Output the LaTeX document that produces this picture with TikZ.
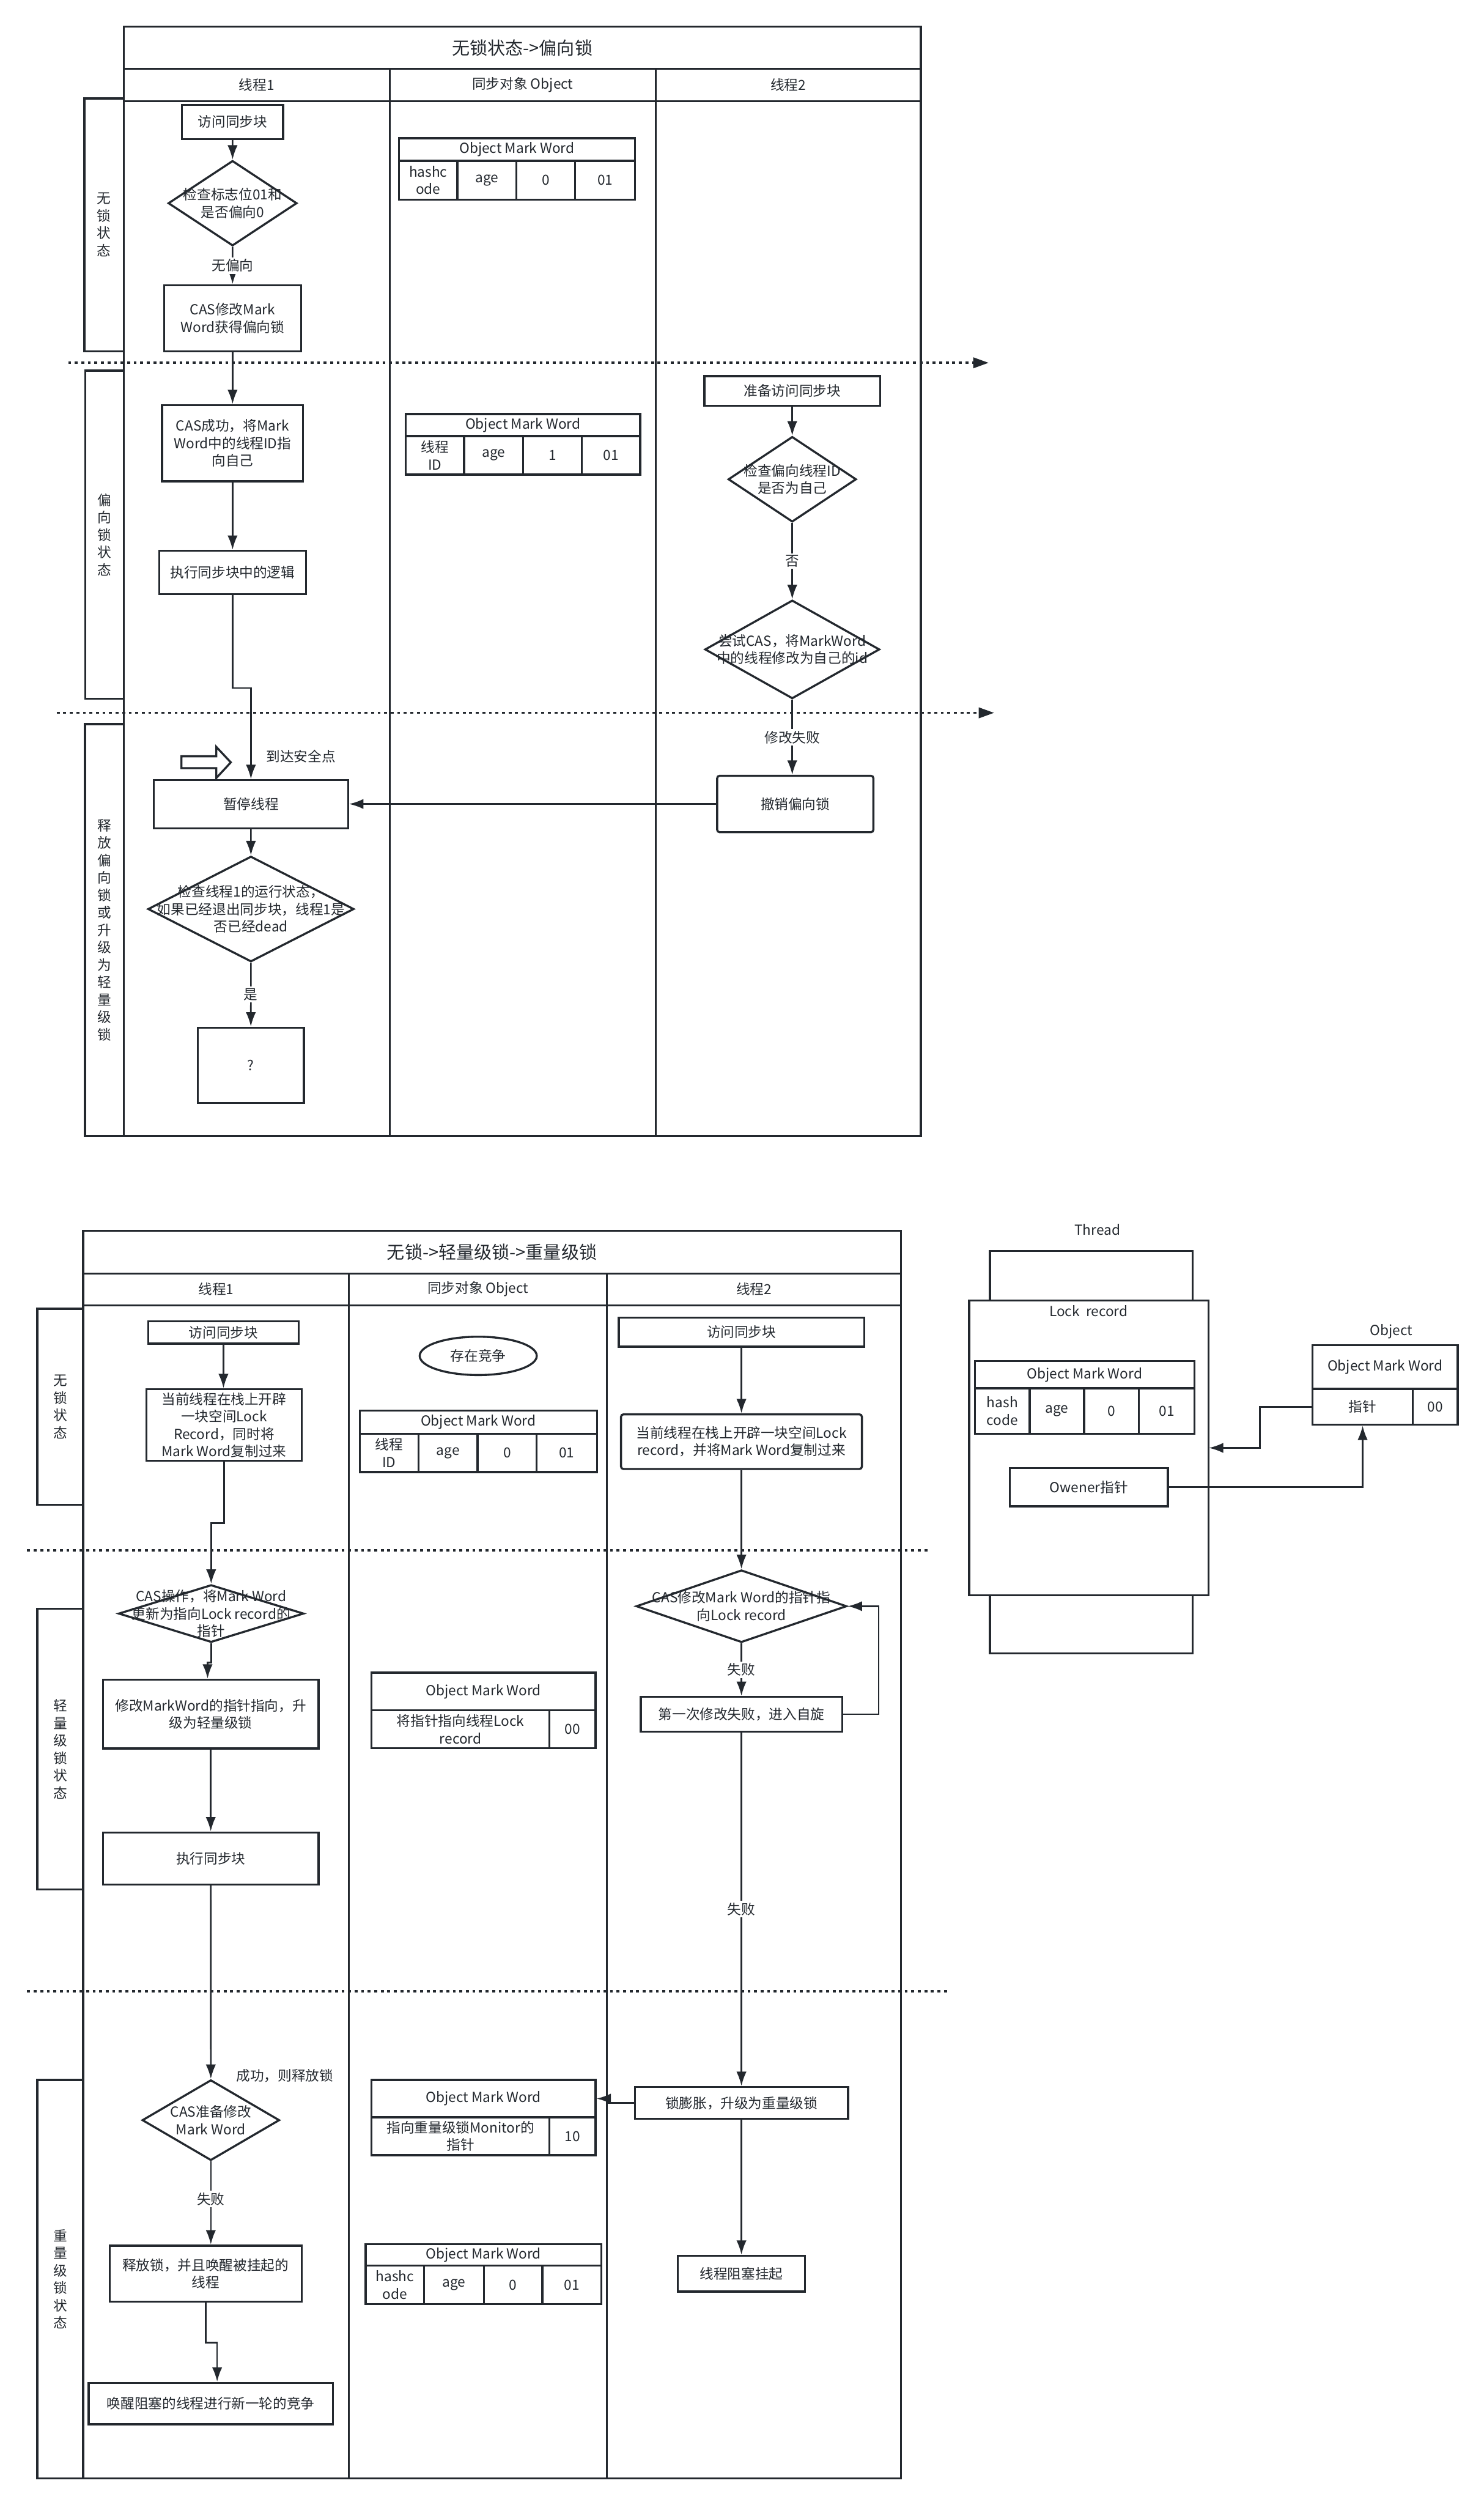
\documentclass[tikz,border=0pt]{standalone}
\usepackage{fontspec}
\setmainfont{Noto Sans CJK SC}
\usetikzlibrary{arrows.meta,shapes.geometric}
\definecolor{ink}{RGB}{35,40,46}
\newcommand\rbox[7][]{\node[box,#1,minimum width={(#5-#3)*0.3mm},minimum height={(#6-#4)*0.3mm}] (#2) at ({(#3+#5)/2},{(#4+#6)/2}) {#7};}
\newcommand\dnode[6]{\node[dia,minimum width={#4*0.3mm},minimum height={#5*0.3mm}] (#1) at (#2,#3) {};\node[txt] (#1t) at (#1.center) {#6};}
\begin{document}
\begin{tikzpicture}[x=0.3mm,y=-0.3mm,
 txt/.style={font=\fontsize{7.4}{9.3}\selectfont,text=ink,align=center},
 box/.style={txt,draw=ink,line width=1.1pt,fill=white,inner sep=0.5pt},
 rbx/.style={rounded corners=1.3pt},
 lane/.style={draw=ink,line width=1.1pt},
 dia/.style={diamond,draw=ink,line width=1.1pt,fill=white,inner sep=0pt},
 arr/.style={draw=ink,line width=0.85pt,-{Latex[length=2.7mm,width=1.9mm]}},
 lbl/.style={txt,fill=white,inner sep=1pt},
 sepl/.style={draw=ink,line width=1.2pt,dash pattern=on 0.55mm off 0.68mm},
 sepa/.style={sepl,-{Triangle[length=2.9mm,width=1.95mm]}},
 ttl/.style={font=\fontsize{9.5}{11.5}\selectfont,text=ink}]
\useasboundingbox (0,0) rectangle (929,1568);

% ================= TOP DIAGRAM =================
\draw[lane] (77.5,16.7) rectangle (576.5,711);
\draw[lane] (77.5,43) -- (576.5,43);
\draw[lane] (77.5,63.3) -- (576.5,63.3);
\draw[lane] (244,43) -- (244,711);
\draw[lane] (410.5,43) -- (410.5,711);
\node[ttl] (tt1) at (327,29.9) {无锁状态->偏向锁};
\node[txt] (th1) at (160.75,53.2) {线程1};
\node[txt] (th2) at (327.25,53.2) {同步对象 Object};
\node[txt] (th3) at (493.5,53.2) {线程2};
\rbox{lb1}{52.8}{61.6}{77.5}{219.8}{无\\锁\\状\\态}
\rbox{lb2}{53.3}{232}{77.5}{437.3}{偏\\向\\锁\\状\\态}
\rbox{lb3}{53.2}{453.3}{77.5}{711}{释\\放\\偏\\向\\锁\\或\\升\\级\\为\\轻\\量\\级\\锁}

\coordinate (s1a) at (42.7,227.1); \coordinate (s1b) at (619,227.1);
\coordinate (s2a) at (35.5,446.2); \coordinate (s2b) at (622.4,446.2);
\draw[sepa] (s1a) -- (s1b);
\draw[sepa] (s2a) -- (s2b);

% thread 1
\rbox{a1}{113.9}{65.6}{177.3}{87}{访问同步块}
\dnode{d1}{145.6}{127.2}{80.6}{53.3}{检查标志位01和\\是否偏向0}
\rbox{b1}{102.7}{178.5}{188.5}{219.8}{CAS修改Mark\\Word获得偏向锁}
\rbox{b2}{101.4}{253.6}{189.8}{301.2}{CAS成功，将Mark\\Word中的线程ID指\\向自己}
\rbox{b3}{99.7}{344.8}{191.5}{372}{执行同步块中的逻辑}
\rbox{b4}{96.3}{488.3}{217.9}{518.4}{暂停线程}
\dnode{d2}{157.1}{569}{129}{66}{检查线程1的运行状态，\\如果已经退出同步块，线程1是\\否已经dead}
\rbox{b5}{123.9}{643.2}{190.2}{690.4}{?}
\node[txt,anchor=west,inner sep=0pt] (safe) at (166.5,473.4) {到达安全点};
\draw[lane,fill=white] (113.6,473.4) -- (135.4,473.4) -- (135.4,467.5) -- (144.5,477.2) -- (135.4,487) -- (135.4,480.8) -- (113.6,480.8) -- cycle;

% object column
\rbox{t1h}{249.7}{86.5}{397.6}{100.7}{Object Mark Word}
\rbox{t1a}{249.7}{100.7}{286.4}{125}{hashc\\ode}
\rbox{t1b}{286.4}{100.7}{323.4}{125}{age}
\rbox{t1c}{323.4}{100.7}{360.1}{125}{0}
\rbox{t1d}{360.1}{100.7}{397.6}{125}{01}
\rbox{t2h}{254}{259.2}{400.8}{273}{Object Mark Word}
\rbox{t2a}{254}{273}{290.6}{297}{线程\\ID}
\rbox{t2b}{290.6}{273}{327.6}{297}{age}
\rbox{t2c}{327.6}{273}{364.2}{297}{1}
\rbox{t2d}{364.2}{273}{400.8}{297}{01}

% thread 2
\rbox{c1}{441}{235.4}{551}{254}{准备访问同步块}
\dnode{d3}{496}{300}{80.2}{53.4}{检查偏向线程ID\\是否为自己}
\dnode{d4}{496}{406.5}{109.4}{61.6}{尝试CAS，将MarkWord\\中的线程修改为自己的id}
\rbox[rbx]{c2}{449}{485.6}{546.8}{520.9}{撤销偏向锁}

\draw[arr] (a1.south) -- (d1.north);
\draw[arr] (d1.south) -- node[lbl]{无偏向} (b1.north);
\draw[arr] (b1.south) -- (b2.north);
\draw[arr] (b2.south) -- (b3.north);
\draw[arr] (b3.south) -- ++(0,58) -| (b4.north);
\draw[arr] (b4.south) -- (d2.north);
\draw[arr] (d2.south) -- node[lbl]{是} (b5.north);
\draw[arr] (c1.south) -- (d3.north);
\draw[arr] (d3.south) -- node[lbl]{否} (d4.north);
\draw[arr] (d4.south) -- node[lbl]{修改失败} (d4.south |- c2.north);
\draw[arr] (c2.west) -- (c2.west -| b4.east);

% ================= BOTTOM DIAGRAM =================
\draw[lane] (52.1,770.5) rectangle (564,1551.3);
\draw[lane] (52.1,797.2) -- (564,797.2);
\draw[lane] (52.1,817) -- (564,817);
\draw[lane] (218.5,797.2) -- (218.5,1551.3);
\draw[lane] (380,797.2) -- (380,1551.3);
\node[ttl] (tt2) at (308,783.9) {无锁->轻量级锁->重量级锁};
\node[txt] (bh1) at (135.3,807) {线程1};
\node[txt] (bh2) at (299.25,807) {同步对象 Object};
\node[txt] (bh3) at (472,807) {线程2};
\rbox{m1}{23.3}{819.2}{52.1}{941.9}{无\\锁\\状\\态}
\rbox{m2}{23.3}{1007}{52.1}{1182.7}{轻\\量\\级\\锁\\状\\态}
\rbox{m3}{23.3}{1301.9}{52.1}{1551.3}{重\\量\\级\\锁\\状\\态}

\coordinate (s3a) at (17,970.5); \coordinate (s3b) at (581.6,970.5);
\coordinate (s4a) at (17,1246.4); \coordinate (s4b) at (594.4,1246.4);
\draw[sepl] (s3a) -- (s3b);
\draw[sepl] (s4a) -- (s4b);

% thread 1
\rbox{e1}{92.8}{827.1}{187}{841}{访问同步块}
\rbox{e2}{91.7}{869.6}{188.8}{914.4}{当前线程在栈上开辟\\一块空间Lock\\Record，同时将\\Mark Word复制过来}
\dnode{e3}{132.2}{1010}{116}{36}{CAS操作，将Mark Word\\更新为指向Lock record的\\指针}
\rbox{e4}{64.5}{1051.4}{199.4}{1094.4}{修改MarkWord的指针指向，升\\级为轻量级锁}
\rbox{e5}{64.5}{1147}{199.4}{1179.5}{执行同步块}
\dnode{e6}{132}{1327.1}{86}{50.4}{CAS准备修改\\Mark Word}
\node[txt,anchor=west,inner sep=0pt] (succ) at (147.8,1299.2) {成功，则释放锁};
\rbox{e7}{68.6}{1405.6}{188.8}{1440.6}{释放锁，并且唤醒被挂起的\\线程}
\rbox{e8}{55.5}{1491.5}{208.4}{1517.5}{唤醒阻塞的线程进行新一轮的竞争}

% object column
\node[box,ellipse,minimum width={73.3*0.3mm},minimum height={24*0.3mm}] (el) at (299.4,848.7) {存在竞争};
\rbox{t3h}{225.2}{883}{373.7}{897.4}{Object Mark Word}
\rbox{t3a}{225.2}{897.4}{262}{921.4}{线程\\ID}
\rbox{t3b}{262}{897.4}{299}{921.4}{age}
\rbox{t3c}{299}{897.4}{336}{921.4}{0}
\rbox{t3d}{336}{897.4}{373.7}{921.4}{01}
\rbox{t4h}{232.6}{1047}{372.8}{1070.5}{Object Mark Word}
\rbox{t4a}{232.6}{1070.5}{344}{1094.3}{将指针指向线程Lock\\record}
\rbox{t4b}{344}{1070.5}{372.8}{1094.3}{00}
\rbox{t5h}{232.6}{1301.9}{372.8}{1325.3}{Object Mark Word}
\rbox{t5a}{232.6}{1325.3}{344}{1349}{指向重量级锁Monitor的\\指针}
\rbox{t5b}{344}{1325.3}{372.8}{1349}{10}
\rbox{t6h}{228.9}{1404.6}{376.5}{1418.2}{Object Mark Word}
\rbox{t6a}{228.9}{1418.2}{265.5}{1442.2}{hashc\\ode}
\rbox{t6b}{265.5}{1418.2}{302.9}{1442.2}{age}
\rbox{t6c}{302.9}{1418.2}{339.5}{1442.2}{0}
\rbox{t6d}{339.5}{1418.2}{376.5}{1442.2}{01}

% thread 2
\rbox{f1}{387.4}{824.8}{541}{843}{访问同步块}
\rbox[rbx]{f2}{388.8}{885.3}{539.6}{919.5}{当前线程在栈上开辟一块空间Lock\\record，并将Mark Word复制过来}
\dnode{f3}{464.2}{1005.4}{131.8}{45.3}{CAS修改Mark Word的指针指\\向Lock record}
\rbox{f4}{401.2}{1062.2}{527.2}{1083.8}{第一次修改失败，进入自旋}
\rbox{f5}{397.5}{1306.4}{530.9}{1326.3}{锁膨胀，升级为重量级锁}
\rbox{f6}{424.4}{1412}{504}{1434.4}{线程阻塞挂起}

\draw[arr] (e1.south) -- (e1.south |- e2.north);
\draw[arr] (e2.south) -- ++(0,38.3) -| (e3.north);
\draw[arr] (e3.south) -- ++(0,12) -| ([xshift=-0.6mm]e4.north);
\draw[arr] (e4.south) -- (e5.north);
\draw[arr] (e5.south) -- (e6.north);
\draw[arr] (e6.south) -- node[lbl,pos=0.45]{失败} (e6.south |- e7.north);
\draw[arr] (e7.south) -- ++(0,25.1) -| ([xshift=1.2mm]e8.north);
\draw[arr] (f1.south) -- (f2.north);
\draw[arr] (f2.south) -- (f3.north);
\draw[arr] (f3.south) -- node[lbl]{失败} (f4.north);
\draw[arr] (f4.east) -- ++(22.3,0) |- (f3.east);
\draw[arr] (f4.south) -- node[lbl]{失败} (f5.north);
\draw[arr] (f5.west) -- ++(-16,0) |- (t5h.east);
\draw[arr] (f5.south) -- (f6.north);

% ================= THREAD / LOCK RECORD =================
\node[txt] (thr) at (687,769.5) {Thread};
\draw[lane] (619.7,814) -- (619.7,783) -- (746.7,783) -- (746.7,814);
\draw[lane] (619.7,998.6) -- (619.7,1035) -- (746.7,1035) -- (746.7,998.6);
\draw[lane] (606.7,814) rectangle (756.6,998.6);
\node[draw=none,minimum width={149.9*0.3mm},minimum height={184.6*0.3mm},inner sep=0pt] (lr) at (681.65,906.3) {};
\node[txt] (lrt) at (681.5,820.6) {Lock\ \ record};
\rbox{t7h}{610.4}{852}{747.8}{869}{Object Mark Word}
\rbox{t7a}{610.4}{869}{644.7}{897.5}{hash\\code}
\rbox{t7b}{644.7}{869}{678.7}{897.5}{age}
\rbox{t7c}{678.7}{869}{713}{897.5}{0}
\rbox{t7d}{713}{869}{747.8}{897.5}{01}
\rbox{ow}{632.3}{919}{731.1}{942.8}{Owener指针}
\node[txt] (objl) at (871,833.4) {Object};
\rbox{t8h}{821.7}{842}{912.6}{869.4}{Object Mark Word}
\rbox{t8a}{821.7}{869.4}{884.5}{891.7}{指针}
\rbox{t8b}{884.5}{869.4}{912.6}{891.7}{00}
\draw[arr] (t8a.west) -- ++(-32.3,0) |- (lr.east);
\draw[arr] (ow.east) -| (t8a.south);
\end{tikzpicture}
\end{document}
